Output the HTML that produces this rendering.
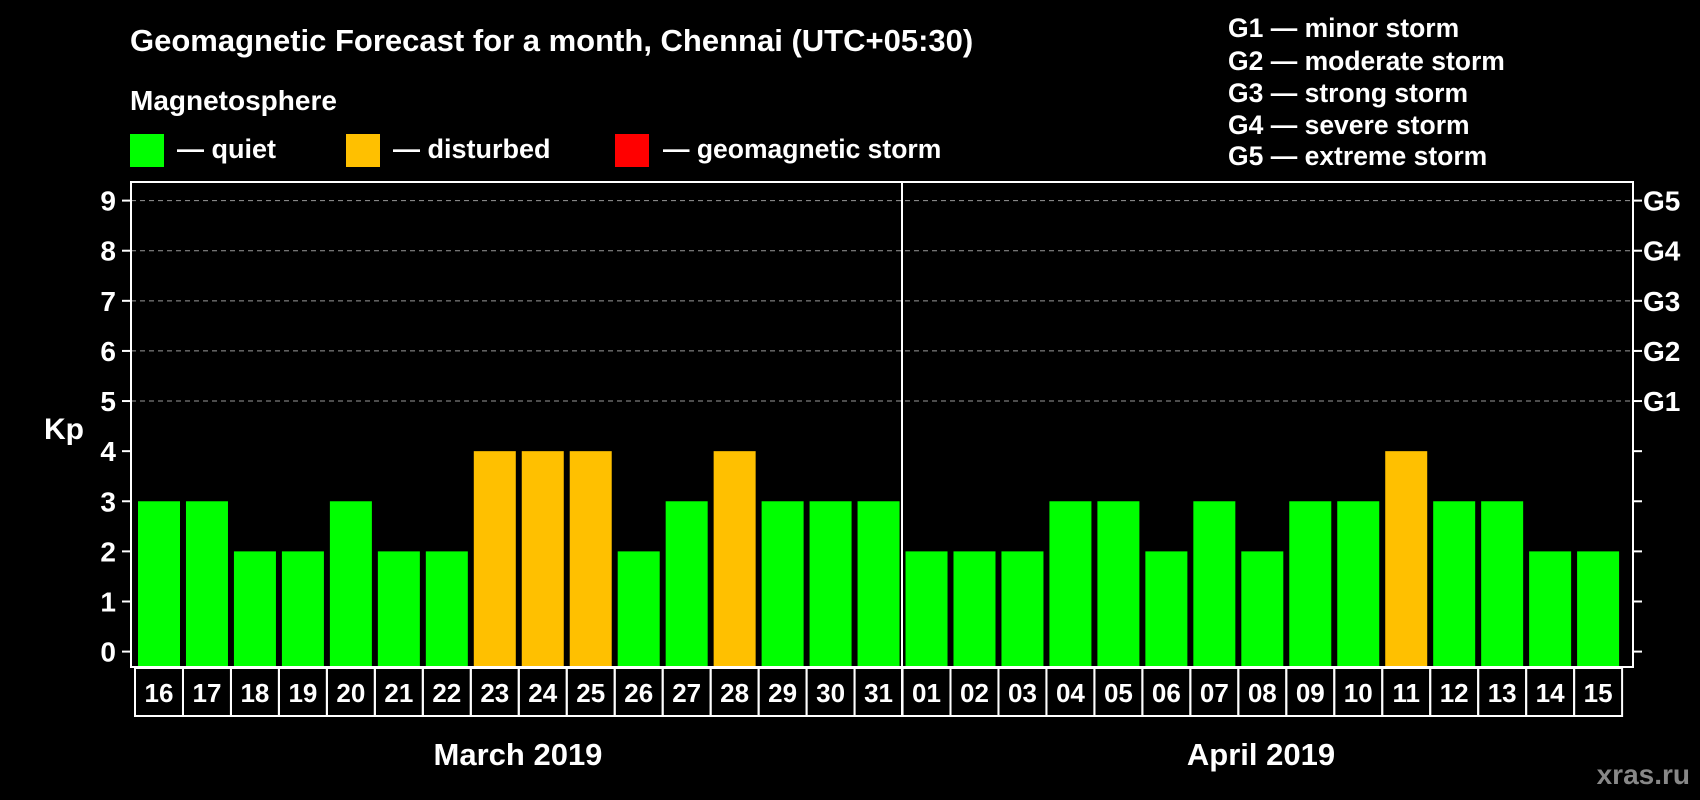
<!DOCTYPE html>
<html><head><meta charset="utf-8"><style>
html,body{margin:0;padding:0;background:#000;}
svg{display:block;font-family:"Liberation Sans",Arial,sans-serif;font-weight:bold;}
</style></head><body>
<svg id="chart" width="1700" height="800" viewBox="0 0 1700 800" xmlns="http://www.w3.org/2000/svg">
<text x="130" y="51" fill="#fff" font-size="31">Geomagnetic Forecast for a month, Chennai (UTC+05:30)</text>
<text x="130" y="110" fill="#fff" font-size="28">Magnetosphere</text>
<rect x="130" y="134" width="34" height="33" fill="#00ff00"/>
<text x="177" y="158" fill="#fff" font-size="27">— quiet</text>
<rect x="346" y="134" width="34" height="33" fill="#ffc000"/>
<text x="393" y="158" fill="#fff" font-size="27">— disturbed</text>
<rect x="615" y="134" width="34" height="33" fill="#ff0000"/>
<text x="663" y="158" fill="#fff" font-size="26.5">— geomagnetic storm</text>
<g fill="#fff" font-size="26.5">
<text x="1228" y="37">G1 — minor storm</text>
<text x="1228" y="70">G2 — moderate storm</text>
<text x="1228" y="102">G3 — strong storm</text>
<text x="1228" y="134">G4 — severe storm</text>
<text x="1228" y="165">G5 — extreme storm</text>
</g>
<text x="64" y="439" fill="#fff" font-size="30" text-anchor="middle">Kp</text>
<g id="grid"></g><g id="bars"></g><g id="axes"></g>
<rect x="131" y="182" width="1502" height="485" fill="none" stroke="#fff" stroke-width="2"/>
<line x1="902" y1="182" x2="902" y2="716" stroke="#fff" stroke-width="2"/>
<text x="518" y="765" fill="#fff" font-size="31" text-anchor="middle">March 2019</text>
<text x="1261" y="765" fill="#fff" font-size="31" text-anchor="middle">April 2019</text>
<text x="1690" y="784" fill="#888" font-size="28" text-anchor="end">xras.ru</text>
</svg>
<script>
const days = ["16","17","18","19","20","21","22","23","24","25","26","27","28","29","30","31","01","02","03","04","05","06","07","08","09","10","11","12","13","14","15"];
const kpValues = [3,3,2,2,3,2,2,4,4,4,2,3,4,3,3,3,2,2,2,3,3,2,3,2,3,3,4,3,3,2,2];
const yTicks = [0,1,2,3,4,5,6,7,8,9];
const gLabels = ["","","","","","G1","G2","G3","G4","G5"];
const NS="http://www.w3.org/2000/svg";
const y0=651.6, unit=(651.6-200.6)/9;
const y = v => y0 - v*unit;
const x = i => 138 + i*47.97;
function mk(tag, attrs, parent){const e=document.createElementNS(NS,tag);for(const k in attrs)e.setAttribute(k,attrs[k]);parent.appendChild(e);return e;}
const grid=document.getElementById('grid'), bars=document.getElementById('bars'), axes=document.getElementById('axes');
yTicks.forEach((t,i)=>{
  if(t>=5){const l=mk('line',{x1:131,x2:1633,y1:y(t),y2:y(t),stroke:'#999','stroke-dasharray':'5,4','stroke-width':1},grid);
  
  }
  const tl=mk('line',{x1:122,x2:131,y1:y(t),y2:y(t),stroke:'#fff','stroke-width':2},axes);
  
  
  const tr=mk('line',{x1:1633,x2:1642,y1:y(t),y2:y(t),stroke:'#fff','stroke-width':2},axes);
  
  
  const lb=mk('text',{x:116,y:y(t)+10,fill:'#fff','font-size':28,'text-anchor':'end'},axes);
  lb.textContent=t;
  
  
  if(gLabels[i]){const g=mk('text',{x:1643,y:y(t)+10,fill:'#fff','font-size':28},axes);
  g.textContent=gLabels[i];
  
  }
});
kpValues.forEach((v,i)=>{
  const col = v>=5?'#ff0000':(v>=4?'#ffc000':'#00ff00');
  const b=mk('rect',{x:x(i),y:y(v),width:42,height:666-y(v),fill:col},bars);
  
  
  const bx=mk('rect',{x:x(i)-3,y:668,width:48,height:48,fill:'none',stroke:'#fff','stroke-width':2},axes);
  
  
  const dl=mk('text',{x:x(i)+21,y:702,fill:'#fff','font-size':26,'text-anchor':'middle'},axes);
  dl.textContent=days[i];
  
  
});
</script>
</body></html>
